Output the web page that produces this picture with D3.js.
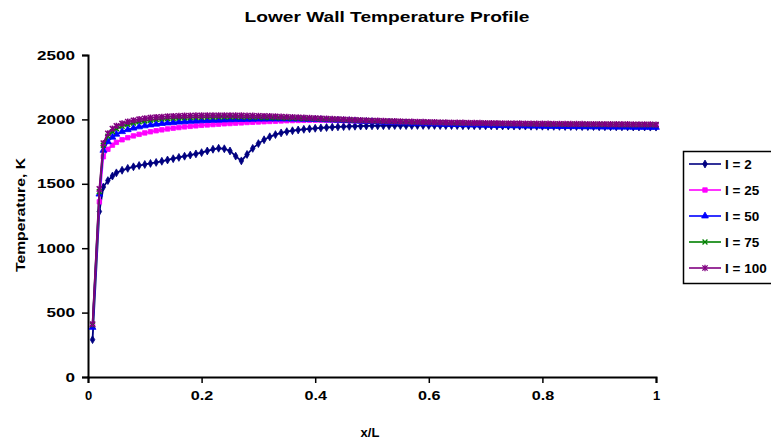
<!DOCTYPE html>
<html>
<head>
<meta charset="utf-8">
<script src="https://cdn.jsdelivr.net/npm/d3@7"></script>
<style>
  html, body { margin: 0; padding: 0; background: #fff; }
  svg { display: block; }
  text { font-family: "Liberation Sans", Arial, sans-serif; font-weight: bold; fill: #000; }
</style>
</head>
<body>
<svg id="chart" width="771" height="441"></svg>
<script>
// ---------------- DATA ----------------
const titleText = "Lower Wall Temperature Profile";
const xTitle = "x/L";
const yTitle = "Temperature, K";
const xTicks = [0, 0.2, 0.4, 0.6, 0.8, 1];
const xTickLabels = ["0", "0.2", "0.4", "0.6", "0.8", "1"];
const yTicks = [0, 500, 1000, 1500, 2000, 2500];
const yTickLabels = ["0", "500", "1000", "1500", "2000", "2500"];
const seriesNames = ["I = 2", "I = 25", "I = 50", "I = 75", "I = 100"];

const xPos = [0.008, 0.02, 0.027, 0.035, 0.043,
  0.05, 0.06, 0.07, 0.08, 0.09, 0.10, 0.11, 0.12, 0.13, 0.14, 0.15, 0.16, 0.17, 0.18, 0.19,
  0.20, 0.21, 0.22, 0.23, 0.24, 0.25, 0.26, 0.27, 0.28, 0.29, 0.30, 0.31, 0.32, 0.33, 0.34,
  0.35, 0.36, 0.37, 0.38, 0.39, 0.40, 0.41, 0.42, 0.43, 0.44, 0.45, 0.46, 0.47, 0.48, 0.49,
  0.50, 0.51, 0.52, 0.53, 0.54, 0.55, 0.56, 0.57, 0.58, 0.59, 0.60, 0.61, 0.62, 0.63, 0.64,
  0.65, 0.66, 0.67, 0.68, 0.69, 0.70, 0.71, 0.72, 0.73, 0.74, 0.75, 0.76, 0.77, 0.78, 0.79,
  0.80, 0.81, 0.82, 0.83, 0.84, 0.85, 0.86, 0.87, 0.88, 0.89, 0.90, 0.91, 0.92, 0.93, 0.94,
  0.95, 0.96, 0.97, 0.98, 0.99, 1.00];

const tI2 = [290, 1285, 1475, 1525, 1560, 1585, 1605, 1620, 1632, 1642, 1650,
  1658, 1666, 1675, 1685, 1695, 1705, 1714, 1723, 1732, 1742,
  1755, 1768, 1776, 1772, 1755, 1715, 1678, 1728, 1775, 1812,
  1842, 1865, 1882, 1895, 1905, 1912, 1918, 1923, 1927, 1931,
  1934, 1937, 1940, 1942, 1944, 1946, 1947, 1948, 1949, 1950,
  1950, 1951, 1951, 1952, 1952, 1952, 1952, 1953, 1953, 1953,
  1953, 1952, 1952, 1952, 1952, 1951, 1951, 1951, 1950, 1950,
  1950, 1949, 1949, 1949, 1948, 1948, 1948, 1947, 1947, 1947,
  1946, 1946, 1946, 1945, 1945, 1945, 1944, 1944, 1944, 1943,
  1943, 1943, 1942, 1942, 1942, 1941, 1941, 1941, 1940, 1940];

const tI25 = [395, 1360, 1710, 1768, 1800, 1822, 1842, 1858, 1872, 1884, 1895,
  1904, 1912, 1919, 1926, 1932, 1937, 1942, 1946, 1950, 1954,
  1957, 1960, 1963, 1966, 1968, 1971, 1973, 1976, 1978, 1980,
  1982, 1984, 1986, 1988, 1990, 1991, 1992, 1993, 1994, 1994,
  1994, 1993, 1993, 1992, 1991, 1990, 1989, 1988, 1987, 1986,
  1985, 1984, 1983, 1982, 1981, 1980, 1979, 1978, 1977, 1976,
  1975, 1974, 1973, 1973, 1972, 1971, 1970, 1970, 1969, 1968,
  1968, 1967, 1967, 1966, 1965, 1965, 1964, 1964, 1963, 1963,
  1962, 1962, 1961, 1961, 1960, 1960, 1960, 1959, 1959, 1958,
  1958, 1958, 1957, 1957, 1957, 1956, 1956, 1956, 1955, 1955];

const tI50 = [385, 1420, 1760, 1827, 1862, 1885, 1905, 1920, 1932, 1942, 1950,
  1957, 1963, 1968, 1972, 1976, 1979, 1982, 1985, 1987, 1989,
  1991, 1993, 1994, 1996, 1997, 1998, 1999, 2000, 2001, 2002,
  2002, 2003, 2003, 2003, 2003, 2002, 2002, 2001, 2000, 1999,
  1998, 1996, 1995, 1993, 1991, 1990, 1988, 1986, 1984, 1982,
  1980, 1978, 1977, 1975, 1973, 1972, 1970, 1969, 1967, 1966,
  1965, 1963, 1962, 1961, 1960, 1959, 1958, 1957, 1956, 1955,
  1954, 1953, 1952, 1951, 1951, 1950, 1949, 1948, 1948, 1947,
  1946, 1946, 1945, 1945, 1944, 1944, 1943, 1943, 1942, 1942,
  1941, 1941, 1940, 1940, 1940, 1939, 1939, 1939, 1938, 1938];

const tI75 = [405, 1440, 1800, 1870, 1905, 1928, 1947, 1961, 1972, 1981, 1988,
  1994, 1999, 2003, 2006, 2009, 2011, 2013, 2015, 2016, 2017,
  2018, 2018, 2019, 2019, 2019, 2019, 2018, 2018, 2017, 2016,
  2015, 2014, 2013, 2012, 2011, 2010, 2009, 2007, 2006, 2005,
  2003, 2002, 2000, 1999, 1997, 1995, 1994, 1992, 1991, 1989,
  1988, 1986, 1985, 1983, 1982, 1981, 1980, 1979, 1978, 1977,
  1976, 1975, 1974, 1973, 1972, 1972, 1971, 1970, 1970, 1969,
  1968, 1968, 1967, 1967, 1966, 1966, 1965, 1965, 1964, 1964,
  1963, 1963, 1963, 1962, 1962, 1962, 1961, 1961, 1961, 1960,
  1960, 1960, 1960, 1959, 1959, 1959, 1959, 1958, 1958, 1958];

const tI100 = [410, 1460, 1815, 1892, 1928, 1950, 1968, 1982, 1993, 2001, 2008,
  2013, 2017, 2020, 2023, 2025, 2027, 2028, 2029, 2030, 2030,
  2031, 2031, 2031, 2031, 2031, 2030, 2030, 2029, 2028, 2027,
  2026, 2025, 2023, 2022, 2020, 2018, 2016, 2014, 2012, 2010,
  2008, 2006, 2004, 2002, 2000, 1998, 1996, 1994, 1993, 1991,
  1990, 1988, 1987, 1986, 1984, 1983, 1982, 1981, 1980, 1979,
  1978, 1977, 1976, 1975, 1975, 1974, 1973, 1972, 1972, 1971,
  1970, 1970, 1969, 1969, 1968, 1968, 1967, 1967, 1966, 1966,
  1966, 1965, 1965, 1965, 1964, 1964, 1964, 1963, 1963, 1963,
  1963, 1962, 1962, 1962, 1962, 1961, 1961, 1961, 1961, 1960];

const seriesValues = [tI2, tI25, tI50, tI75, tI100];

// ---------------- STYLE ----------------
const colors = ["#000080", "#FF00FF", "#0000FF", "#008000", "#800080"];

const symX = { draw(ctx, size) { const r = Math.sqrt(size) / 2;
  ctx.moveTo(-r, -r); ctx.lineTo(r, r); ctx.moveTo(r, -r); ctx.lineTo(-r, r); } };
const symStar = { draw(ctx, size) { const r = Math.sqrt(size) / 2;
  ctx.moveTo(-r, -r); ctx.lineTo(r, r); ctx.moveTo(r, -r); ctx.lineTo(-r, r);
  ctx.moveTo(0, -r * 1.2); ctx.lineTo(0, r * 1.2); } };
const markers = [
  { type: d3.symbolDiamond, size: 18, fill: true },
  { type: d3.symbolSquare, size: 20, fill: true },
  { type: d3.symbolTriangle, size: 20, fill: true },
  { type: symX, size: 24, fill: false },
  { type: symStar, size: 28, fill: false }
];

// ---------------- CHART ----------------
const svg = d3.select("#chart");
const mLeft = 88, mRight = 656, mTop = 55, mBottom = 377;

const x = d3.scaleLinear().domain([0, 1]).range([mLeft, mRight]);
const y = d3.scaleLinear().domain([0, 2500]).range([mBottom, mTop]);

// Title
svg.append("text")
  .attr("x", 387).attr("y", 22)
  .attr("text-anchor", "middle")
  .attr("font-size", 15)
  .attr("textLength", 285).attr("lengthAdjust", "spacingAndGlyphs")
  .text(titleText);

// Axes
const xAxis = d3.axisBottom(x).tickValues(xTicks)
  .tickFormat((d, i) => xTickLabels[i]).tickSizeOuter(0).tickSize(6).tickPadding(8);
const gx = svg.append("g").attr("transform", `translate(0,${mBottom})`).call(xAxis);
const yAxis = d3.axisLeft(y).tickValues(yTicks)
  .tickFormat((d, i) => yTickLabels[i]).tickSizeOuter(0).tickSize(6).tickPadding(7);
const gy = svg.append("g").attr("transform", `translate(${mLeft},0)`).call(yAxis);

[gx, gy].forEach(g => {
  g.select(".domain").attr("stroke", "#000").attr("stroke-width", 2);
  g.selectAll(".tick line").attr("stroke", "#000").attr("stroke-width", 1.5);
  g.selectAll(".tick text")
    .attr("font-family", "'Liberation Sans', Arial, sans-serif")
    .attr("font-weight", "bold").attr("font-size", 13).attr("fill", "#000");
});
gy.selectAll(".tick text").each(function () {
  const t = d3.select(this);
  const n = t.text().length;
  t.attr("textLength", n * 9.5).attr("lengthAdjust", "spacingAndGlyphs");
});
gx.selectAll(".tick text").attr("dy", "0.71em").each(function () {
  const t = d3.select(this);
  const n = t.text().length;
  if (n > 1) t.attr("textLength", n * 7.5).attr("lengthAdjust", "spacingAndGlyphs");
});

// Axis titles
svg.append("text")
  .attr("x", 370).attr("y", 437)
  .attr("text-anchor", "middle").attr("font-size", 13)
  .text(xTitle);
svg.append("text")
  .attr("transform", `translate(25,215) rotate(-90)`)
  .attr("text-anchor", "middle").attr("font-size", 13)
  .attr("textLength", 114).attr("lengthAdjust", "spacingAndGlyphs")
  .text(yTitle);

// Series
const line = d3.line().x(d => x(d[0])).y(d => y(d[1]));
seriesValues.forEach((vals, si) => {
  const pts = xPos.map((xv, i) => [xv, vals[i]]);
  const g = svg.append("g");
  g.append("path").datum(pts)
    .attr("d", line).attr("fill", "none")
    .attr("stroke", colors[si]).attr("stroke-width", 1.8);
  const m = markers[si];
  const sym = d3.symbol().type(m.type).size(m.size);
  g.selectAll("path.mk").data(pts).join("path")
    .attr("class", "mk")
    .attr("transform", d => `translate(${x(d[0])},${y(d[1])})`)
    .attr("d", sym)
    .attr("fill", m.fill ? colors[si] : "none")
    .attr("stroke", colors[si]).attr("stroke-width", m.fill ? 0.8 : 1.5);
});

// Legend
const lg = svg.append("g");
lg.append("rect").attr("x", 683.5).attr("y", 151.5).attr("width", 100).attr("height", 132)
  .attr("fill", "#fff").attr("stroke", "#000").attr("stroke-width", 1.5);
const rowY = d3.scalePoint().domain(d3.range(seriesNames.length)).range([164, 268]);
seriesNames.forEach((name, si) => {
  const yy = rowY(si);
  lg.append("line").attr("x1", 689).attr("x2", 721).attr("y1", yy).attr("y2", yy)
    .attr("stroke", colors[si]).attr("stroke-width", 1.6);
  const m = markers[si];
  lg.append("path").attr("transform", `translate(705,${yy})`)
    .attr("d", d3.symbol().type(m.type).size(m.size)())
    .attr("fill", m.fill ? colors[si] : "none")
    .attr("stroke", colors[si]).attr("stroke-width", m.fill ? 0.8 : 1.3);
  lg.append("text").attr("x", 725).attr("y", yy + 5)
    .attr("font-size", 13.5).text(name);
});
</script>
</body>
</html>
